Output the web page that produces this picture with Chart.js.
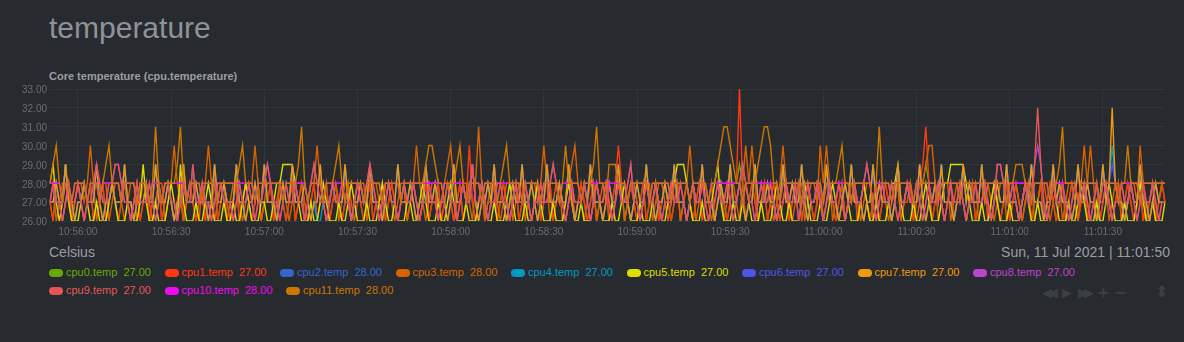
<!DOCTYPE html>
<html>
<head>
<meta charset="utf-8">
<script src="https://cdn.jsdelivr.net/npm/chart.js@4"></script>
<style>
  html, body { margin: 0; padding: 0; background: #272b30; width: 1184px; height: 342px; overflow: hidden;
    font-family: "Liberation Sans", Arial, sans-serif; }
  #title { position: absolute; left: 49px; top: 13px; font-size: 30px; line-height: 30px; color: #8e9398; }
  #sub { position: absolute; left: 49px; top: 71px; font-size: 11px; line-height: 11px; font-weight: bold; color: #9a9ea3; }
  #wrap { position: absolute; left: 0; top: 80px; width: 1184px; height: 163px; }
  #units { position: absolute; left: 49px; top: 245px; font-size: 14px; line-height: 14px; color: #9a9ea3; }
  #date { position: absolute; right: 14px; top: 245px; font-size: 14px; line-height: 14px; color: #9a9ea3; }
  #legend { position: absolute; left: 49px; top: 263px; width: 1110px; font-size: 11px; line-height: 18px; }
  .item { display: inline-block; margin-right: 13.6px; white-space: nowrap; }
  .box { display: inline-block; width: 14px; height: 8px; border-radius: 4px; margin-right: 3px; vertical-align: -1px; }
  .val { margin-left: 6px; }
  .nav { position: absolute; top: 285px; font-family: "DejaVu Sans", sans-serif; font-size: 13px; line-height: 16px; color: #3a3f45; }
</style>
</head>
<body>
<div id="title">temperature</div>
<div id="sub">Core temperature (cpu.temperature)</div>
<div id="wrap"><canvas id="chart"></canvas></div>
<div id="units">Celsius</div>
<div id="date">Sun, 11 Jul 2021 | 11:01:50</div>
<div id="legend"></div>
<div class="nav" style="left:1042px;letter-spacing:-4px">◀◀</div>
<div class="nav" style="left:1062px">▶</div>
<div class="nav" style="left:1078px;letter-spacing:-4px">▶▶</div>
<div class="nav" style="left:1097px;font-size:15px;font-weight:bold">+</div>
<div class="nav" style="left:1114px;font-size:15px;font-weight:bold">−</div>
<div class="nav" style="left:1155px;top:284px;font-size:16px">⬍</div>
<script>
// one reading per second, 10:55:51 .. 11:01:50
const startTime = [10, 55, 51];

const cpu0 = [27,26,28,27,26,27,28,26,27,28, 27,26,27,28,26,27,27,28,26,27, 28,27,26,27,28,27,26,27,28,26,
 27,28,26,27,27,28,26,27,28,27, 26,27,28,26,27,28,27,26,27,28, 26,27,27,28,26,27,28,27,26,27,
 28,26,27,28,27,26,27,28,26,27, 27,28,26,27,28,27,26,27,28,26, 27,28,27,26,27,28,26,27,27,28,
 26,27,28,27,26,27,28,26,27,28, 27,26,27,28,26,27,27,28,26,27, 28,27,26,27,28,26,27,28,27,26,
 27,28,26,27,27,28,26,27,28,27, 26,27,28,26,27,28,27,26,27,28, 26,27,27,28,26,27,28,27,26,27,
 28,26,27,28,27,26,27,28,26,27, 27,28,26,27,28,27,26,27,28,26, 27,28,27,26,27,28,26,27,27,28,
 26,27,28,28,28,26,27,28,27,26, 27,28,26,27,27,28,26,27,28,27, 26,27,28,26,27,28,27,26,27,28,
 26,27,27,28,26,27,28,27,26,27, 28,28,29,28,26,27,28,27,26,27, 28,26,27,28,27,26,27,28,26,27,
 27,28,26,27,28,27,26,27,28,26, 27,28,27,26,27,28,26,27,27,28, 26,27,28,27,26,27,28,26,27,28,
 27,26,27,28,26,27,27,28,26,27, 28,28,29,28,26,27,28,27,26,27, 28,26,27,28,27,26,27,28,26,27,
 27,28,26,27,28,27,26,27,28,26, 27,28,27,26,27,28,26,27,27,28, 26,27,28,27,26,27,28,26,27,28,
 27,26,27,28,26,27,27,28,26,27, 28,27,26,27,28,26,27,28,27,26, 27,28,26,27,27,28,26,27,28,27];

const cpu1 = [27,26,28,27,26,27,28,26,27,28, 27,26,27,28,26,27,27,28,26,27, 28,27,26,27,28,27,26,27,28,26,
 27,28,26,27,27,28,26,27,28,27, 26,27,28,26,27,28,27,26,27,28, 26,27,27,28,26,27,28,27,26,27,
 28,26,27,28,27,26,27,28,26,27, 27,28,26,27,28,27,26,27,28,26, 27,28,27,26,27,28,26,27,27,28,
 26,27,28,27,26,27,28,26,27,28, 27,26,27,28,26,27,27,28,26,27, 28,27,26,27,28,26,27,28,27,26,
 27,28,26,27,27,28,26,27,28,27, 26,27,28,26,27,30,27,26,27,28, 26,27,27,28,26,27,28,27,26,27,
 28,26,27,28,27,26,27,28,26,27, 27,28,26,27,28,27,26,27,28,26, 27,28,27,26,27,28,26,27,27,28,
 26,27,28,30,28,26,27,28,27,26, 27,28,26,27,27,28,26,27,28,27, 26,27,28,26,27,28,27,26,27,28,
 26,27,27,28,26,27,28,27,26,27, 28,28,33,28,26,27,28,27,26,27, 28,26,27,28,27,26,27,28,26,27,
 27,28,26,27,28,27,26,27,28,26, 27,28,27,26,27,28,26,27,27,28, 26,27,28,27,26,27,28,26,27,28,
 27,26,27,28,26,27,27,28,26,27, 28,29,31,28,26,27,28,27,26,27, 28,26,27,28,27,26,27,28,26,27,
 27,28,26,27,28,27,26,27,28,26, 27,28,27,26,27,28,26,27,27,28, 26,27,28,27,26,27,28,26,27,28,
 27,26,27,28,26,27,27,28,26,27, 28,27,26,27,28,26,27,28,27,26, 27,28,26,27,27,28,26,27,28,27];

const cpu2 = [28,28,28,28,27,28,28,27,28,28, 28,28,27,28,28,28,27,28,28,28, 28,28,28,27,28,28,28,28,27,28,
 28,28,27,28,28,28,27,28,28,28, 28,28,28,28,27,28,28,28,28,27, 28,28,28,28,27,28,28,28,28,28,
 28,28,28,28,28,28,27,28,28,28, 28,28,28,28,28,27,28,28,28,28, 28,28,28,27,28,28,28,28,27,28,
 28,28,28,28,28,27,28,28,28,28, 28,27,28,28,28,28,28,27,28,28, 28,28,28,27,28,28,28,28,28,28,
 28,28,28,28,28,28,28,27,28,28, 28,28,28,28,27,28,28,28,28,27, 28,28,28,28,27,28,28,28,28,28,
 28,28,27,28,28,28,28,28,27,28, 28,28,28,28,27,28,28,28,28,28, 28,27,28,28,28,28,28,28,28,27,
 28,28,28,28,28,28,27,28,28,28, 28,28,28,27,28,28,28,28,28,28, 27,28,28,28,28,28,27,28,28,28,
 28,28,27,28,28,28,28,28,28,28, 28,28,28,27,28,28,28,28,28,28, 28,28,28,28,28,27,28,28,28,28,
 28,28,27,28,28,28,28,28,28,27, 28,28,28,28,28,28,28,28,27,28, 28,28,28,28,28,27,28,28,28,28,
 28,27,28,28,28,28,28,28,27,28, 28,28,28,28,28,28,27,28,28,28, 28,28,28,27,28,28,28,28,28,28,
 28,27,28,28,28,28,28,28,27,28, 28,28,28,28,28,28,27,28,28,28, 28,28,27,28,28,28,28,28,28,28,
 28,27,28,28,28,28,28,28,27,28, 28,28,28,28,27,28,28,28,28,28, 28,27,28,28,28,28,28,28,28,28];

const cpu3 = [27,28,26,27,28,28,27,26,27,28, 28,27,28,30,28,26,27,28,28,26, 27,28,28,27,26,27,28,28,26,27,
 28,28,27,26,27,28,28,26,27,28, 30,28,27,26,27,28,28,27,26,28, 28,30,28,26,27,28,28,26,27,28,
 28,27,26,27,28,28,30,28,26,27, 28,28,27,26,28,28,27,26,27,28, 28,28,26,27,28,28,30,28,27,26,
 27,28,28,26,27,28,28,27,26,27, 28,28,26,27,28,28,27,26,28,28, 27,26,27,28,28,26,27,28,30,28,
 27,26,27,28,28,26,27,28,29,30, 28,26,27,28,28,27,26,28,31,28, 26,27,28,28,27,26,27,28,28,26,
 27,28,28,26,27,28,28,27,28,30, 28,26,27,28,28,26,27,28,29,30, 28,27,26,27,28,28,26,27,28,28,
 27,26,27,28,28,26,27,28,28,27, 26,27,28,28,26,27,28,28,27,26, 27,28,28,26,27,28,30,28,26,27,
 28,28,27,26,27,28,28,26,27,28, 28,27,26,28,30,28,30,28,26,27, 28,28,27,26,27,28,30,28,27,26,
 27,28,28,26,27,28,28,27,30,28, 30,28,26,27,28,28,26,27,28,28, 27,26,27,28,28,26,27,28,28,27,
 26,27,28,28,26,27,28,28,27,26, 27,28,29,30,30,28,26,27,28,28, 26,27,28,28,27,26,27,28,28,26,
 27,28,28,27,26,27,28,28,26,27, 28,28,27,26,27,28,28,26,27,28, 28,27,26,27,28,28,26,27,28,28,
 27,26,28,30,28,30,28,26,27,28, 28,26,27,28,28,27,26,27,28,28, 27,30,28,26,27,28,28,27,28,28];

const cpu4 = [27,27,28,27,27,29,27,27,26,27, 27,28,27,27,27,29,27,26,27,27, 28,27,27,27,29,27,27,26,27,27,
 27,28,27,27,29,27,27,27,28,27, 26,27,27,29,27,27,27,28,27,27, 27,26,27,29,27,27,28,27,27,27,
 29,27,27,26,27,27,28,27,27,29, 27,27,27,26,27,28,27,27,29,27, 27,27,28,27,26,27,26,26,27,27,
 27,28,27,27,27,29,27,26,27,27, 28,27,27,29,27,27,27,26,27,28, 27,27,29,27,27,27,28,27,26,27,
 27,29,27,27,28,27,27,27,26,27, 29,27,27,28,27,27,29,27,26,27, 27,28,27,29,27,27,27,26,27,28,
 27,27,29,27,27,28,27,26,27,27, 29,27,27,27,28,27,27,29,27,26, 27,27,28,27,29,27,27,27,26,27,
 28,27,27,29,27,27,27,26,27,28, 27,27,29,27,27,26,27,27,28,27, 27,29,27,27,27,26,27,28,27,27,
 29,27,27,27,26,27,28,27,27,29, 27,27,28,27,26,27,27,29,27,27, 27,28,27,27,26,27,29,27,27,28,
 27,27,29,27,26,27,27,28,27,27, 29,27,27,27,26,27,28,27,29,27, 27,27,26,27,27,29,27,28,27,27,
 27,26,27,29,27,27,28,27,27,27, 29,27,26,27,27,28,27,29,27,27, 27,26,27,27,29,27,28,27,27,27,
 29,27,27,26,27,28,27,27,29,27, 27,27,26,27,28,27,29,27,27,27, 26,27,27,29,27,28,27,27,27,26,
 27,29,27,27,28,27,27,26,27,29, 27,28,30,28,27,27,26,27,28,27, 27,29,27,27,26,27,28,27,27,27];

const cpu5 = [28,29,27,26,27,29,27,26,26,26, 27,28,27,26,26,27,26,26,26,27, 28,27,26,26,26,27,27,26,26,27,
 29,27,26,26,27,26,26,26,27,28, 27,26,29,27,26,26,26,27,26,26, 27,28,27,26,26,26,27,26,26,27,
 26,26,27,28,27,26,26,26,27,27, 26,26,27,28,28,29,29,29,29,28, 27,26,26,26,27,26,26,27,28,27,
 26,26,26,27,26,26,27,28,27,26, 26,26,27,26,26,26,27,28,27,26, 26,27,26,26,26,27,27,26,26,27,
 28,27,26,26,26,27,26,26,27,28, 27,26,26,26,27,26,26,26,27,28, 27,26,26,27,26,26,26,27,28,27,
 26,26,26,27,26,26,27,28,27,26, 26,26,27,26,26,26,27,28,27,26, 26,27,26,26,26,27,28,27,26,26,
 26,27,26,26,27,28,27,26,26,26, 27,26,26,26,27,28,27,26,26,27, 28,28,29,29,29,28,27,26,26,26,
 27,26,26,27,28,29,27,26,26,26, 27,26,26,27,28,27,26,26,26,27, 26,26,26,27,28,27,26,26,27,26,
 26,26,27,28,27,26,26,26,27,26, 26,27,28,27,26,26,26,27,26,26, 26,27,28,27,26,26,27,26,26,26,
 27,28,28,29,27,26,26,26,27,26, 26,27,28,27,26,26,26,27,28,28, 29,29,29,29,29,28,27,26,26,26,
 27,26,26,27,28,27,26,26,26,27, 26,26,26,27,28,27,26,26,27,26, 26,26,27,28,27,26,26,26,27,26,
 26,27,28,27,26,26,26,27,26,26, 27,28,27,26,26,26,27,26,26,26, 27,28,27,26,26,27,26,26,26,27];

const cpu6 = [27,27,28,27,27,29,27,27,26,27, 27,28,27,27,27,29,27,26,27,27, 28,27,27,27,29,27,27,26,27,27,
 27,28,27,27,29,27,27,27,28,27, 26,27,27,29,27,27,27,28,27,27, 27,26,27,29,27,27,28,27,27,27,
 29,27,27,26,27,27,28,27,27,29, 27,27,27,26,27,28,27,27,29,27, 27,27,28,27,26,27,27,29,27,27,
 27,28,27,27,27,29,27,26,27,27, 28,27,27,29,27,27,27,26,27,28, 27,27,29,27,27,27,28,27,26,27,
 27,29,27,27,28,27,27,27,26,27, 29,27,27,28,27,27,29,27,26,27, 27,28,27,29,27,27,27,26,27,28,
 27,27,29,27,27,28,27,26,27,27, 29,27,27,27,28,27,27,29,27,26, 27,27,28,27,29,27,27,27,26,27,
 28,27,27,29,27,27,27,26,27,28, 27,27,29,27,27,26,27,27,28,27, 27,29,27,27,27,26,27,28,27,27,
 29,27,27,27,26,27,28,27,27,29, 27,27,28,27,26,27,27,29,27,27, 27,28,27,27,26,27,29,27,27,28,
 27,27,29,27,26,27,27,28,27,27, 29,27,27,27,26,27,28,27,29,27, 27,27,26,27,27,29,27,28,27,27,
 27,26,27,29,27,27,28,27,27,27, 29,27,26,27,27,28,27,29,27,27, 27,26,27,27,29,27,28,27,27,27,
 29,27,27,26,27,28,27,27,29,27, 27,27,26,27,28,27,29,27,27,27, 26,27,27,29,27,28,27,27,27,26,
 27,29,27,27,28,27,27,26,27,29, 27,28,29,28,27,27,26,27,28,27, 27,29,27,27,26,27,28,27,27,27];

const cpu7 = [27,27,28,27,27,29,27,27,26,27, 27,28,27,27,27,29,27,26,27,27, 28,27,27,27,29,27,27,26,27,27,
 27,28,27,27,29,27,27,27,28,27, 26,27,27,29,27,27,27,28,27,27, 27,26,27,29,27,27,28,27,27,27,
 29,27,27,26,27,27,28,27,27,29, 27,27,27,26,27,28,27,27,29,27, 27,27,28,27,26,27,27,29,27,27,
 27,28,27,27,27,29,27,26,27,27, 28,27,27,29,27,27,27,26,27,28, 27,27,29,27,27,27,28,27,26,27,
 27,29,27,27,28,27,27,27,26,27, 29,27,27,28,27,27,29,27,26,27, 27,28,27,29,27,27,27,26,27,28,
 27,27,29,27,27,28,27,26,27,27, 29,27,27,27,28,27,27,29,27,26, 27,27,28,27,29,27,27,27,26,27,
 28,27,27,29,27,27,27,26,27,28, 27,27,29,27,27,26,27,27,28,27, 27,29,27,27,27,26,27,28,27,27,
 29,27,27,27,26,27,28,27,27,29, 27,27,28,27,26,27,27,29,27,27, 27,28,27,27,26,27,29,27,27,28,
 27,27,29,27,26,27,27,28,27,27, 29,27,27,27,26,27,28,27,29,27, 27,27,26,27,27,29,27,28,27,27,
 27,26,27,29,27,27,28,27,27,27, 29,27,26,27,27,28,27,29,27,27, 27,26,27,27,29,27,28,27,27,27,
 29,27,27,26,27,28,27,27,29,27, 27,27,26,27,28,27,29,27,27,27, 26,27,27,29,27,28,27,27,27,26,
 27,29,27,27,28,27,27,26,27,29, 27,28,32,28,27,27,26,27,28,27, 27,29,27,27,26,27,28,27,27,27];

const cpu8 = [27,28,27,27,26,27,28,27,27,28, 27,26,27,27,28,29,28,27,27,28, 28,29,29,28,27,27,26,27,28,27,
 27,27,28,27,26,27,27,28,28,27, 27,26,27,28,27,27,29,27,27,28, 27,27,26,27,28,28,27,27,27,26,
 27,28,27,27,28,27,26,27,27,28, 29,28,27,27,26,27,28,27,27,28, 27,27,26,27,28,29,28,27,27,26,
 27,28,27,27,28,27,27,26,27,28, 27,27,28,29,28,27,26,27,27,28, 27,27,26,27,28,27,27,28,27,26,
 27,27,28,27,27,26,27,28,28,27, 27,26,27,28,27,27,29,27,27,28, 27,26,27,27,28,28,27,27,26,27,
 28,27,27,28,27,26,27,27,28,27, 27,28,29,28,27,27,26,27,28,27, 27,27,28,27,26,27,28,27,27,28,
 27,26,27,28,27,27,28,29,27,27, 26,27,28,27,27,28,27,26,27,27, 28,27,27,28,27,26,27,28,27,27,
 28,27,26,27,27,28,27,27,28,27, 26,27,28,29,28,27,27,26,27,28, 27,27,28,27,26,27,27,28,27,27,
 28,26,27,27,28,27,27,28,27,26, 27,28,27,27,28,27,26,27,27,28, 27,27,28,29,28,27,26,27,28,27,
 27,28,27,26,27,27,28,27,27,28, 27,26,27,28,27,27,28,27,26,27, 28,27,27,28,27,26,27,27,28,27,
 27,28,27,26,27,29,29,28,27,27, 28,27,26,27,28,27,27,29,30,29, 27,26,27,28,27,27,28,27,26,27,
 28,27,27,28,27,26,27,28,27,27, 28,27,26,27,27,28,27,27,28,27, 26,27,28,27,27,28,27,26,27,27];

const cpu9 = [27,28,27,27,26,27,28,27,27,28, 27,26,27,27,28,29,28,27,27,28, 28,29,29,28,27,27,26,27,28,27,
 27,27,28,27,26,27,27,28,28,27, 27,26,27,28,27,27,29,27,27,28, 27,27,26,27,28,28,27,27,27,26,
 27,28,27,27,28,27,26,27,27,28, 29,28,27,27,26,27,28,27,27,28, 27,27,26,27,28,29,28,27,27,26,
 27,28,27,27,28,27,27,26,27,28, 27,27,28,29,28,27,26,27,27,28, 27,27,26,27,28,27,27,28,27,26,
 27,27,28,27,27,26,27,28,28,27, 27,26,27,28,27,27,29,27,27,28, 27,26,27,27,28,28,27,27,26,27,
 28,27,27,28,27,26,27,27,28,27, 27,28,29,28,27,27,26,27,28,27, 27,27,28,27,26,27,28,27,27,28,
 27,26,27,28,27,27,28,29,27,27, 26,27,28,27,27,28,27,26,27,27, 28,27,27,28,27,26,27,28,27,27,
 28,27,26,27,27,28,27,27,28,27, 26,27,28,29,28,27,27,26,27,28, 27,27,28,27,26,27,27,28,27,27,
 28,26,27,27,28,27,27,28,27,26, 27,28,27,27,28,27,26,27,27,28, 27,27,28,29,28,27,26,27,28,27,
 27,28,27,26,27,27,28,27,27,28, 27,26,27,28,27,27,28,27,26,27, 28,27,27,28,27,26,27,27,28,27,
 27,28,27,26,27,29,29,28,27,27, 28,27,26,27,28,27,27,29,32,29, 27,26,27,28,27,27,28,27,26,27,
 28,27,27,28,27,26,27,28,27,27, 28,27,26,27,27,28,27,27,28,27, 26,27,28,27,27,28,27,26,27,27];

const cpu10 = [28,28,28,28,27,28,28,27,28,28, 28,28,27,28,28,28,27,28,28,28, 28,28,28,27,28,28,28,28,27,28,
 28,28,27,28,28,28,27,28,28,28, 28,28,28,28,27,28,28,28,28,27, 28,28,28,28,27,28,28,28,28,28,
 28,28,28,28,28,28,27,28,28,28, 28,28,28,28,28,27,28,28,28,28, 28,28,28,27,28,28,28,28,27,28,
 28,28,28,28,28,27,28,28,28,28, 28,27,28,28,28,28,28,27,28,28, 28,28,28,27,28,28,28,28,28,28,
 28,28,28,28,28,28,28,27,28,28, 28,28,28,28,27,28,28,28,28,27, 28,28,28,28,27,28,28,28,28,28,
 28,28,27,28,28,28,28,28,27,28, 28,28,28,28,27,28,28,28,28,28, 28,27,28,28,28,28,28,28,28,27,
 28,28,28,28,28,28,27,28,28,28, 28,28,28,27,28,28,28,28,28,28, 27,28,28,28,28,28,27,28,28,28,
 28,28,27,28,28,28,28,28,28,28, 28,28,28,27,28,28,28,28,28,28, 28,28,28,28,28,27,28,28,28,28,
 28,28,27,28,28,28,28,28,28,27, 28,28,28,28,28,28,28,28,27,28, 28,28,28,28,28,27,28,28,28,28,
 28,27,28,28,28,28,28,28,27,28, 28,28,28,28,28,28,27,28,28,28, 28,28,28,27,28,28,28,28,28,28,
 28,27,28,28,28,28,28,28,27,28, 28,28,28,28,28,28,27,28,28,28, 28,28,27,28,28,28,28,28,28,28,
 28,27,28,28,28,28,28,28,27,28, 28,28,28,28,27,28,28,28,28,28, 28,27,28,28,28,28,28,28,28,28];

const cpu11 = [28,29,30,28,27,28,28,27,28,28, 28,28,27,28,28,28,27,28,29,30, 28,28,28,27,28,28,28,28,27,28,
 28,28,27,28,31,28,27,28,28,28, 28,29,31,28,27,28,28,28,28,27, 28,28,28,28,27,28,28,28,28,28,
 28,29,30,28,28,28,27,28,28,28, 28,28,28,28,28,27,28,28,28,28, 29,31,28,27,28,28,28,28,27,28,
 28,28,29,30,28,27,28,28,28,28, 28,27,28,28,28,28,28,27,28,28, 28,28,28,27,28,28,28,28,28,28,
 28,29,30,30,29,28,28,27,28,28, 28,29,30,28,27,28,28,28,28,27, 28,28,28,28,27,28,29,30,28,28,
 28,28,27,28,28,28,28,28,27,28, 28,28,28,28,27,28,30,28,28,28, 28,27,28,28,28,29,31,28,28,27,
 29,29,29,28,28,28,27,28,28,28, 28,28,28,27,28,28,28,28,28,28, 27,28,28,28,28,28,27,28,28,28,
 28,28,27,28,28,29,30,31,31,30, 29,28,28,27,28,28,28,28,29,30, 31,31,30,28,28,27,28,28,28,28,
 28,28,27,28,28,28,28,28,28,27, 28,28,28,28,29,30,28,28,27,28, 28,28,28,28,28,27,28,31,28,28,
 28,27,28,28,28,28,28,28,27,28, 28,28,28,28,28,28,27,28,28,28, 28,28,28,27,28,28,28,28,28,28,
 28,27,28,28,28,28,28,28,27,28, 28,29,29,29,28,28,27,28,28,28, 28,28,27,28,28,29,31,28,28,28,
 28,27,28,28,28,28,28,28,27,28, 28,28,28,28,27,28,28,30,28,28, 28,27,28,28,28,28,28,28,28,28];

const seriesNames = ['cpu0.temp', 'cpu1.temp', 'cpu2.temp', 'cpu3.temp', 'cpu4.temp', 'cpu5.temp',
  'cpu6.temp', 'cpu7.temp', 'cpu8.temp', 'cpu9.temp', 'cpu10.temp', 'cpu11.temp'];
const seriesValues = [cpu0, cpu1, cpu2, cpu3, cpu4, cpu5, cpu6, cpu7, cpu8, cpu9, cpu10, cpu11];
const seriesColors = ['#66AA00', '#FE3912', '#3366CC', '#D66300', '#0099C6', '#DDDD00',
  '#5054e6', '#EE9911', '#BB44CC', '#e45757', '#ef0aef', '#CC7700'];
const yTicks = [26, 27, 28, 29, 30, 31, 32, 33];

function pad(n) { return (n < 10 ? '0' : '') + n; }
var labels = [];
var t0 = startTime[0] * 3600 + startTime[1] * 60 + startTime[2];
for (var i = 0; i < cpu0.length; i++) {
    var s = t0 + i;
    labels.push(pad(Math.floor(s / 3600)) + ':' + pad(Math.floor(s / 60) % 60) + ':' + pad(s % 60));
}
function showTick(i) {
    var sec = labels[i].slice(-2);
    return sec === '00' || sec === '30';
}

var datasets = seriesValues.map(function (vals, i) {
    return {
        label: seriesNames[i],
        data: vals,
        borderColor: seriesColors[i],
        backgroundColor: seriesColors[i],
        borderWidth: 1.4,
        pointRadius: 0,
        tension: 0,
        fill: false,
        order: seriesValues.length - i   // later cpus drawn on top
    };
});

var gridColor = '#30353b';
var tickColor = '#676c72';

new Chart(document.getElementById('chart'), {
    type: 'line',
    data: { labels: labels, datasets: datasets },
    options: {
        responsive: true,
        maintainAspectRatio: false,
        animation: false,
        layout: { padding: { top: 5, right: 19, left: 0, bottom: 0 } },
        plugins: { legend: { display: false }, title: { display: false }, tooltip: { enabled: false } },
        scales: {
            x: {
                type: 'category',
                offset: false,
                border: { display: false },
                // ticks whose label is null are dropped, grid lines with them
                grid: { drawTicks: false, color: gridColor },
                ticks: {
                    autoSkip: false,
                    maxRotation: 0,
                    padding: 5,
                    color: tickColor,
                    font: { size: 10, family: '"Liberation Sans", Arial, sans-serif' },
                    callback: function (v, i) { return showTick(i) ? labels[i] : null; }
                },
                afterFit: function (scale) { scale.height = 22; }
            },
            y: {
                min: yTicks[0],
                max: yTicks[yTicks.length - 1],
                border: { display: false },
                grid: { drawTicks: false, color: gridColor },
                afterBuildTicks: function (scale) {
                    scale.ticks = yTicks.map(function (v) { return { value: v }; });
                },
                ticks: {
                    padding: 3,
                    labelOffset: 1.5,
                    color: tickColor,
                    font: { size: 10, family: '"Liberation Sans", Arial, sans-serif' },
                    callback: function (v) { return Number(v).toFixed(2); }
                },
                afterFit: function (scale) { scale.width = 50; }
            }
        }
    }
});

// legend: name + last value for every series
var legend = document.getElementById('legend');
seriesNames.forEach(function (name, i) {
    var vals = seriesValues[i];
    var item = document.createElement('span');
    item.className = 'item';
    item.style.color = seriesColors[i];
    item.innerHTML = '<span class="box" style="background:' + seriesColors[i] + '"></span>' + name +
        '<span class="val">' + vals[vals.length - 1].toFixed(2) + '</span>';
    legend.appendChild(item);
});
</script>
</body>
</html>
